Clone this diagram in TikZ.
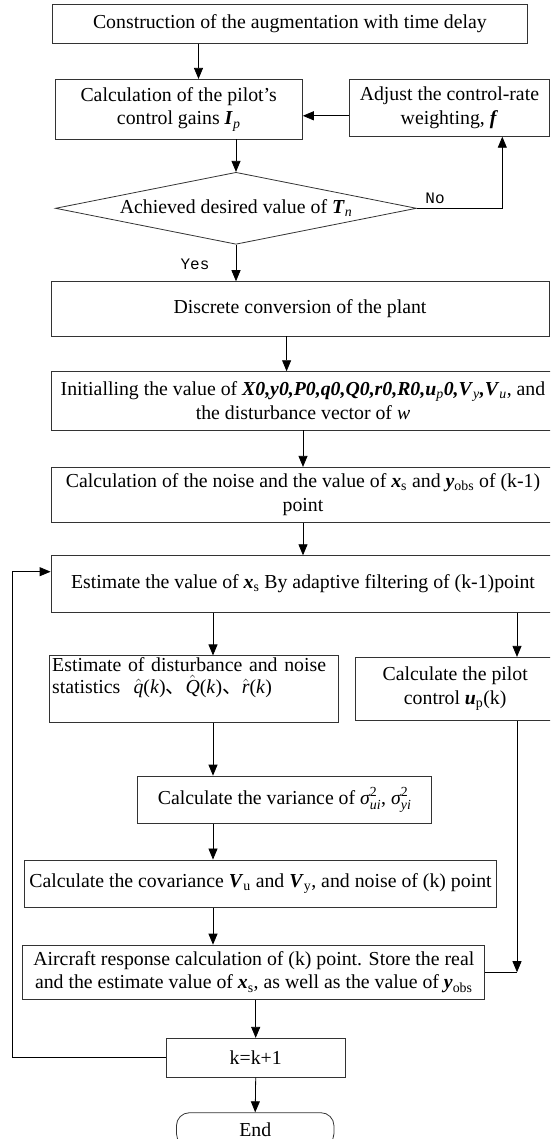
\documentclass[tikz,border=0pt]{standalone}
\usepackage{amsmath}
\usepackage{fontspec}
\setmainfont{Liberation Serif}
\setmonofont{Liberation Mono}
\newfontfamily\cjk{Noto Sans CJK SC}
\usepackage{tikz}
\usetikzlibrary{shapes.geometric, arrows.meta, positioning}
\newcommand{\bvar}[1]{\textbf{\textit{#1}}}
\newcommand{\sgm}[1]{$\textit{σ}^{\text{2}}_{\textit{#1}}$}
\newcommand{\hatv}[1]{$\hat{\textit{#1}}$(\textit{k})}
\tikzset{
  proc/.style={rectangle, draw=black!80, line width=0.8pt, align=center, inner sep=2pt},
  dec/.style={diamond, draw=black!80, line width=0.8pt, aspect=5, inner sep=0pt, align=center},
  term/.style={rectangle, rounded corners=13pt, draw=black!80, line width=0.8pt},
  lbl/.style={font=\ttfamily\fontsize{16}{18}\selectfont},
  arr/.style={-{Triangle[length=11pt,width=9pt]}, line width=0.8pt},
}

\begin{document}
\begin{tikzpicture}[x=1pt, y=-1pt, every node/.style={font=\fontsize{19.8}{23.7}\selectfont}]
\useasboundingbox (0,0) rectangle (550,1139);
\clip (0,0) rectangle (550,1139);
% upper part: gains loop
\node[proc, minimum width=474.6pt, minimum height=39.3pt] (top) at (289.9,23.7) {Construction of the augmentation with time delay};
\node[proc, minimum width=247.4pt, minimum height=59.7pt] (calc) at (178.7,109.2) {Calculation of the pilot's\\control gains \bvar{I}\textsubscript{\textit{p}}};
\node[proc, minimum width=199.3pt, minimum height=57pt] (adj) at (449.4,107.8) {Adjust the control-rate\\weighting, \bvar{f}};
\node[dec, minimum width=361pt, minimum height=72pt] (dia) at (236,208.3) {Achieved desired value of \bvar{T}\textsubscript{\textit{n}}};
\node[lbl] (no) at (435,198.3) {No};
\node[lbl] (yes) at (195,264) {Yes};
\coordinate (nox) at (502.3,0);
\draw[arr] (198.5,0 |- top.south) -- (198.5,0 |- calc.north);
\draw[arr] (calc.south -| dia.north) -- (dia.north);
\draw[arr] ([yshift=-8pt]adj.west) -- ([yshift=-8pt]adj.west -| calc.east);
\draw[arr] (dia.east) -| (nox |- adj.south);
% plant and filter
\node[proc, minimum width=498pt, minimum height=54.3pt] (disc) at (300,308.8) {Discrete conversion of the plant};
\node[proc, minimum width=504pt, minimum height=58.3pt] (init) at (303,400.8) {Initialling the value of \bvar{X0,y0,P0,q0,Q0,r0,R0,u}\textsubscript{\textit{p}}\bvar{0,V}\textsubscript{\textit{y}}\bvar{,V}\textsubscript{\textit{u}}, and\\the disturbance vector of \textit{w}};
\node[proc, minimum width=504pt, minimum height=55pt] (noise) at (303,494.8) {Calculation of the noise and the value of \bvar{x}\textsubscript{s} and \bvar{y}\textsubscript{obs} of (k-1)\\point};
\node[proc, minimum width=504pt, minimum height=56.6pt] (est) at (303,584) {Estimate the value of \bvar{x}\textsubscript{s} By adaptive filtering of (k-1)point};
\draw[arr] (dia.south) -- (dia.south |- disc.north);
\draw[arr] (286.6,0 |- disc.south) -- (286.6,0 |- init.north);
\draw[arr] (noise.north |- init.south) -- (noise.north);
\draw[arr] (noise.south) -- (est.north);
% two branches
\coordinate (colA) at (213,0);
\coordinate (colB) at (517,0);
\node[proc, align=left, text width=283pt, inner xsep=3pt, minimum height=63.4pt] (dist) at (193.7,689) {Estimate of disturbance and noise\\[-2pt] statistics \ \hatv{q}{\cjk 、}\hatv{Q}{\cjk 、}\hatv{r}\\[3pt]\mbox{}};
\node[proc, minimum width=199.7pt, minimum height=63.4pt] (pilot) at (455.2,689) {Calculate the pilot\\control \bvar{u}\textsubscript{p}(k)};
\node[proc, minimum width=293.6pt, minimum height=47.3pt] (var) at (284.6,799.7) {Calculate the variance of \sgm{ui}, \sgm{yi}};
\node[proc, minimum width=471.7pt, minimum height=47.7pt] (cov) at (260.5,883.8) {Calculate the covariance \bvar{V}\textsubscript{u} and \bvar{V}\textsubscript{y}, and noise of (k) point};
\node[proc, minimum width=461.9pt, minimum height=54.3pt] (air) at (253.8,972.2) {Aircraft response calculation of (k) point. Store the real\\and the estimate value of \bvar{x}\textsubscript{s}, as well as the value of \bvar{y}\textsubscript{obs}};
\draw[arr] (colA |- est.south) -- (colA |- dist.north);
\draw[arr] (colB |- est.south) -- (colB |- pilot.north);
\draw[arr] (colA |- dist.south) -- (colA |- var.north);
\draw[arr] (colA |- var.south) -- (colA |- cov.north);
\draw[arr] (colA |- cov.south) -- (colA |- air.north);
\draw[arr] (colB |- pilot.south) -- (colB |- air.east);
\draw (air.east) -- (colB |- air.east);
% step and end
\node[proc, minimum width=179.6pt, minimum height=39pt] (kbox) at (255.7,1057.8) {k=k+1};
\node[term, minimum width=157.5pt, minimum height=34pt, anchor=north] (end) at (255.2,1112.3) {End};
\draw[arr] (air.south -| kbox.north) -- (kbox.north);
\draw[arr] (kbox.south) -- (end.north);
\draw[arr] (kbox.west) -- (kbox.west -| 12.3,0) |- ([yshift=12.3pt]est.west);
\end{tikzpicture}
\end{document}
